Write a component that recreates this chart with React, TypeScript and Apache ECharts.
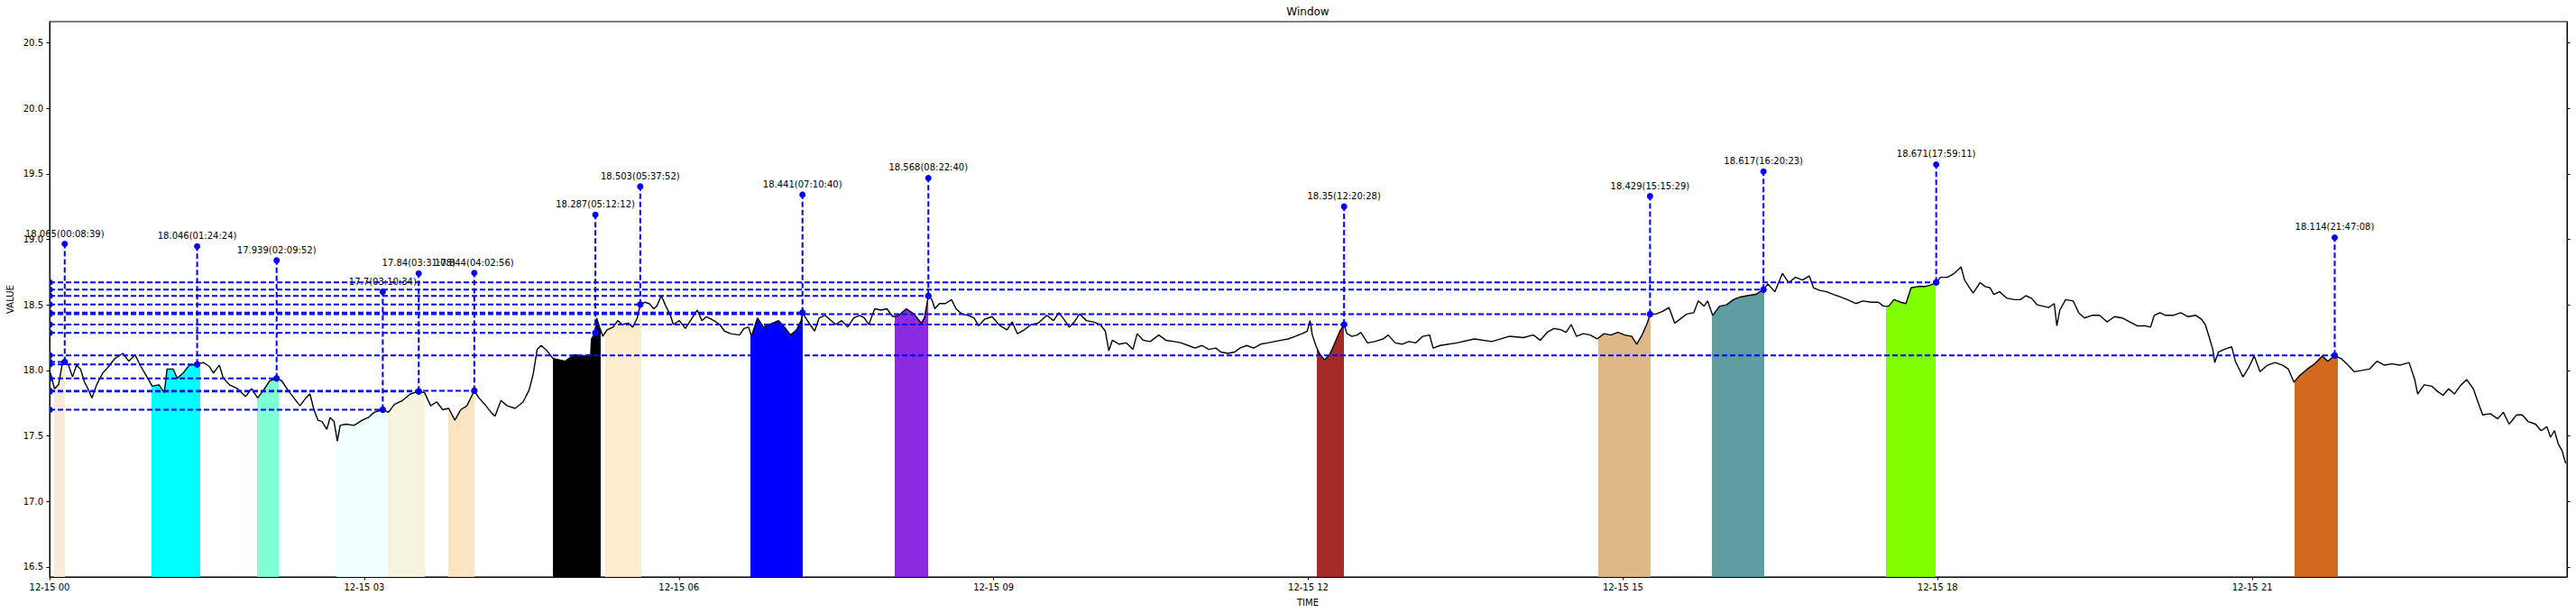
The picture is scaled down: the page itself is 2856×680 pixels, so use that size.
import React, { useEffect, useRef } from 'react';
import * as echarts from 'echarts';

const FONT = 'DejaVu Sans';
const BLUE = '#0000ff';

const xTickMinutes = [0, 180, 360, 540, 720, 900, 1080, 1260];
const xTickLabels = ['12-15 00', '12-15 03', '12-15 06', '12-15 09', '12-15 12', '12-15 15', '12-15 18', '12-15 21'];
const yTickValues = [16.5, 17.0, 17.5, 18.0, 18.5, 19.0, 19.5, 20.0, 20.5];
const yMin = 16.424;
const yMax = 20.661;
const xMin = 0;
const xMax = 1440;

// [minutes since 00:00, value]
const trace: [number, number][] = [
  [0.5,17.98],[2.8,17.86],[5.1,17.89],[7.4,18.06],[8.65,18.065],[10.8,18.04],[13.1,17.95],[15.4,18.04],[17.7,18.01],[20.0,17.91],[22.3,17.85],[24.2,17.79],[26.9,17.89],[30.4,17.98],[33.8,18.03],[37.3,18.09],[41.9,18.13],[45.3,18.07],[48.8,18.12],[52.2,18.03],[55.7,17.95],[58.7,17.88],[62.6,17.89],[65.6,17.83],[67.2,18.01],[70.7,18.01],[73.0,17.94],[76.4,17.98],[79.9,18.04],[84.4,18.046],[87.9,18.06],[91.4,18.03],[93.7,17.98],[97.1,18.04],[99.4,17.94],[102.9,17.89],[107.5,17.86],[112.1,17.80],[115.5,17.86],[119.0,17.79],[122.4,17.85],[125.9,17.92],[129.9,17.939],[132.8,17.92],[136.3,17.85],[139.7,17.79],[143.2,17.73],[146.6,17.79],[148.9,17.82],[151.2,17.70],[153.5,17.62],[155.8,17.61],[158.6,17.55],[160.4,17.64],[162.7,17.61],[164.6,17.46],[166.2,17.58],[169.6,17.59],[174.2,17.58],[178.8,17.62],[182.3,17.64],[185.7,17.68],[190.6,17.70],[193.8,17.68],[197.2,17.74],[201.8,17.77],[206.4,17.82],[211.1,17.84],[214.5,17.83],[218.0,17.73],[221.4,17.76],[224.9,17.70],[228.3,17.71],[231.8,17.62],[235.2,17.70],[238.7,17.73],[242.9,17.844],[245.6,17.79],[249.0,17.74],[252.5,17.68],[254.8,17.65],[258.2,17.77],[261.7,17.73],[266.3,17.71],[270.9,17.76],[274.3,17.85],[276.6,17.97],[278.9,18.16],
  [281.2,18.19],[284.5,18.15],[288.0,18.09],[294.9,18.07],[300.0,18.12],[305.2,18.11],[309.5,18.12],[310.0,18.24],[312.2,18.287],[312.9,18.40],[314.6,18.33],[316.4,18.26],[318.9,18.31],[322.4,18.33],[325.0,18.38],[327.5,18.35],[331.0,18.36],[333.6,18.33],[336.1,18.40],[337.9,18.503],[340.4,18.52],[343.0,18.51],[345.6,18.47],[347.3,18.49],[349.9,18.57],[352.5,18.49],[355.1,18.42],[356.8,18.35],[360.2,18.38],[363.7,18.32],[367.1,18.39],[370.5,18.46],[373.1,18.38],[375.7,18.41],[380.0,18.38],[383.4,18.35],[386.0,18.30],[389.5,18.28],[394.6,18.27],[397.2,18.32],[399.8,18.33],[401.5,18.26],[404.9,18.40],[408.4,18.33],[411.8,18.35],[417.0,18.38],[420.4,18.33],[423.9,18.27],[427.3,18.31],[429.9,18.38],[430.7,18.441],[432.5,18.40],[435.0,18.35],[437.6,18.30],[440.2,18.40],[443.6,18.42],[446.2,18.39],[449.7,18.35],[453.1,18.38],[456.5,18.33],[460.0,18.40],[463.4,18.42],[466.0,18.40],[468.6,18.35],[472.0,18.47],[475.5,18.46],[478.9,18.47],[482.3,18.41],[485.8,18.42],[490.1,18.47],[494.4,18.43],[498.7,18.36],[500.4,18.40],[502.7,18.568],[504.7,18.54],[506.4,18.47],[509.0,18.51],[512.4,18.51],[515.9,18.54],[518.5,18.47],[521.9,18.43],[525.3,18.42],[528.8,18.40],[531.4,18.34],[534.8,18.39],[539.1,18.41],
  [543.7,18.34],[547.7,18.31],[550.6,18.37],[553.6,18.28],[557.6,18.31],[561.5,18.35],[565.5,18.36],[570.4,18.42],[574.3,18.38],[577.3,18.44],[580.2,18.39],[583.2,18.33],[586.2,18.37],[589.1,18.43],[593.1,18.38],[597.0,18.37],[601.0,18.35],[603.9,18.30],[605.9,18.15],[607.9,18.23],[611.8,18.20],[615.8,18.21],[619.7,18.16],[622.1,18.28],[625.6,18.23],[629.6,18.22],[634.5,18.27],[638.5,18.23],[643.4,18.22],[647.3,18.21],[651.3,18.19],[655.2,18.17],[659.2,18.19],[663.1,18.16],[667.1,18.17],[670.0,18.14],[674.0,18.13],[677.9,18.14],[680.9,18.17],[684.8,18.19],[688.8,18.17],[692.7,18.20],[696.7,18.21],[700.6,18.22],[704.6,18.23],[708.5,18.24],[712.5,18.26],[716.4,18.28],[719.4,18.30],[721.0,18.38],[722.3,18.27],[724.3,18.19],[726.3,18.13],[729.2,18.08],[732.2,18.12],[735.2,18.21],[738.1,18.30],[740.5,18.35],[742.1,18.28],[745.0,18.26],[748.0,18.27],[750.0,18.29],[753.9,18.21],[757.9,18.22],[762.8,18.24],[765.7,18.27],[769.7,18.21],[773.6,18.20],[777.6,18.22],[781.5,18.21],[785.5,18.26],[789.4,18.27],[791.4,18.17],[795.4,18.19],
  [805.0,18.21],[815.0,18.24],[825.0,18.22],[835.0,18.26],[843.0,18.25],
  [848.7,18.27],[852.7,18.23],[856.6,18.29],[860.6,18.32],[864.5,18.31],[867.5,18.29],[870.4,18.35],[873.4,18.26],[877.3,18.28],[881.3,18.27],[885.2,18.24],[889.2,18.28],[893.1,18.27],[897.1,18.29],[901.0,18.27],[905.0,18.26],[907.9,18.20],[910.9,18.27],[913.9,18.36],[915.5,18.429],[918.8,18.43],[922.7,18.45],[926.3,18.48],[929.6,18.36],[932.6,18.39],[936.5,18.43],[940.5,18.44],[943.1,18.53],[946.4,18.49],[948.4,18.53],[951.3,18.42],[955.3,18.49],[959.2,18.50],[963.2,18.54],[967.1,18.56],[971.1,18.57],[976.0,18.58],[980.4,18.617],[982.9,18.66],[986.9,18.60],[991.2,18.74],[994.8,18.67],[998.7,18.71],[1002.7,18.69],[1006.6,18.72],[1009.0,18.63],[1012.5,18.61],[1016.5,18.60],[1020.4,18.58],[1024.4,18.56],[1028.3,18.54],[1033.2,18.51],[1037.2,18.53],[1042.1,18.52],[1046.1,18.52],[1049.0,18.49],[1052.0,18.49],[1055.0,18.54],[1058.9,18.52],[1061.9,18.51],[1064.8,18.63],[1068.8,18.64],[1072.7,18.64],[1075.7,18.65],[1079.2,18.671],[1081.6,18.71],[1085.5,18.71],[1089.5,18.74],[1093.4,18.79],[1095.4,18.69],[1097.8,18.64],[1100.3,18.59],[1104.3,18.67],
  [1107.2,18.64],[1110.0,18.63],[1112.1,18.58],[1115.4,18.60],[1119.7,18.55],[1124.0,18.54],[1127.3,18.54],[1130.5,18.57],[1133.7,18.55],[1137.0,18.50],[1140.2,18.49],[1143.5,18.48],[1146.7,18.51],[1148.2,18.34],[1149.9,18.46],[1153.2,18.54],[1157.5,18.53],[1160.7,18.44],[1164.0,18.40],[1168.3,18.42],[1172.6,18.42],[1176.9,18.37],[1181.2,18.41],[1185.6,18.40],[1189.9,18.37],[1194.2,18.34],[1198.5,18.34],[1201.8,18.33],[1203.9,18.42],[1207.2,18.44],[1210.4,18.42],[1214.7,18.42],[1219.0,18.44],[1223.3,18.41],[1227.7,18.42],[1230.9,18.39],[1233.1,18.35],[1235.2,18.26],[1237.4,18.16],[1238.5,18.06],[1240.6,18.14],[1243.9,18.16],[1248.2,18.18],[1250.3,18.07],[1254.7,17.95],[1257.9,18.02],[1261.1,18.11],[1264.4,17.99],[1268.7,18.04],[1273.0,18.06],[1277.3,18.04],[1280.6,18.01],[1283.8,17.91],[1287.0,17.96],[1291.4,18.01],[1295.7,18.05],[1300.0,18.11],[1303.2,18.07],[1307.1,18.114],[1310.8,18.09],[1314.0,18.05],[1318.3,17.99],[1322.7,18.00],[1327.0,18.01],[1331.3,18.07],[1335.6,18.04],[1339.9,18.05],[1344.3,18.04],[1349.7,18.06],[1352.9,17.93],[1354.6,17.82],[1358.3,17.89],[1362.6,17.88],[1365.9,17.84],[1369.1,17.81],[1372.3,17.86],[1375.6,17.82],[1378.8,17.88],[1382.7,17.93],[1386.4,17.86],[1389.6,17.74],[1391.8,17.66],[1396.1,17.67],[1400.4,17.63],[1403.6,17.68],[1406.9,17.59],[1411.2,17.66],[1414.4,17.66],[1417.7,17.61],[1422.0,17.59],[1425.2,17.54],[1428.5,17.57],[1430.6,17.49],[1432.8,17.54],[1435.0,17.44],[1437.1,17.39],[1439.3,17.29],
];

const annTimes = ['00:08:39', '01:24:24', '02:09:52', '03:10:34', '03:31:08', '04:02:56', '05:12:12', '05:37:52', '07:10:40', '08:22:40', '12:20:28', '15:15:29', '16:20:23', '17:59:11', '21:47:08'];
const annValues = [18.065, 18.046, 17.939, 17.7, 17.84, 17.844, 18.287, 18.503, 18.441, 18.568, 18.35, 18.429, 18.617, 18.671, 18.114];
const annRise = 0.9;

const bandStart = [2.4, 58.2, 118.5, 164.1, 193.3, 227.9, 288.0, 317.7, 401.0, 483.5, 724.9, 885.8, 951.0, 1050.6, 1284.0];
const bandEnd = [8.9, 86.1, 131.0, 193.3, 214.5, 242.8, 315.2, 338.4, 431.1, 502.6, 740.5, 915.8, 981.0, 1079.0, 1309.1];
const bandColors = ['#FAEBD7', '#00FFFF', '#7FFFD4', '#F0FFFF', '#F5F5DC', '#FFE4C4', '#000000', '#FFEBCD', '#0000FF', '#8A2BE2', '#A52A2A', '#DEB887', '#5F9EA0', '#7FFF00', '#D2691E'];

const toMin = (s: string) => {
  const [h, m, sec] = s.split(':').map(Number);
  return h * 60 + m + sec / 60;
};

const HALF = 'path://M0,0 A10,10 0 0,1 0,20 Z';

export default function App() {
  const ref = useRef<HTMLDivElement>(null);
  useEffect(() => {
    if (!ref.current) return;
    const chart = echarts.init(ref.current, undefined, { renderer: 'svg' });
    const series: any[] = [];
    series.push({
      type: 'line',
      data: trace,
      showSymbol: false,
      symbol: 'none',
      lineStyle: { width: 0, opacity: 0 },
      areaStyle: { opacity: 1, origin: 'start' },
      z: 1,
      silent: true,
    });
    series.push({
      type: 'line',
      data: trace,
      showSymbol: false,
      symbol: 'none',
      lineStyle: { color: '#000', width: 1.4 },
      itemStyle: { color: '#000' },
      z: 2,
      silent: true,
    });
    annTimes.forEach((ts, i) => {
      const t = toMin(ts);
      const v = annValues[i];
      series.push({
        type: 'line',
        data: [
          { value: [xMin, v], symbol: HALF, symbolSize: [3.5, 7], symbolOffset: [1.75, 0] },
          [t, v],
        ],
        symbol: 'circle',
        symbolSize: 7,
        showSymbol: true,
        lineStyle: { color: BLUE, width: 2, type: [6, 3] },
        itemStyle: { color: BLUE },
        z: 5,
        silent: true,
      });
      series.push({
        type: 'line',
        data: [
          [t, v],
          {
            value: [t, v + annRise],
            label: {
              show: true,
              position: 'top',
              distance: 3,
              formatter: `${v}(${ts})`,
              color: '#000',
              fontSize: 10,
              fontFamily: FONT,
            },
          },
        ],
        symbol: 'circle',
        symbolSize: 7,
        showSymbol: true,
        lineStyle: { color: BLUE, width: 2, type: [6, 3] },
        itemStyle: { color: BLUE },
        z: 6,
        silent: true,
      });
    });

    const axisFont = { color: '#000', fontSize: 10, fontFamily: FONT };
    chart.setOption({
      animation: false,
      backgroundColor: '#fff',
      textStyle: { fontFamily: FONT },
      grid: {
        left: 55, right: 10, top: 24, bottom: 40,
        show: true, borderColor: '#000', borderWidth: 1, backgroundColor: 'transparent',
        containLabel: false, outerBoundsMode: 'none',
      },
      visualMap: {
        type: 'piecewise',
        show: false,
        dimension: 0,
        seriesIndex: 0,
        pieces: bandStart.map((s, i) => ({ gte: s, lte: bandEnd[i], color: bandColors[i] })),
        outOfRange: { color: 'rgba(0,0,0,0)' },
      },
      xAxis: {
        type: 'value',
        min: xMin,
        max: xMax,
        axisLine: { show: true, lineStyle: { color: '#000', width: 1 } },
        axisTick: { show: true, length: 3.5, lineStyle: { color: '#000' }, customValues: xTickMinutes },
        axisLabel: {
          show: true,
          customValues: xTickMinutes,
          formatter: (val: number) => {
            const k = xTickMinutes.indexOf(Math.round(val));
            return k >= 0 ? xTickLabels[k] : '';
          },
          margin: 6,
          ...axisFont,
        },
        splitLine: { show: false },
      },
      yAxis: [
        {
          type: 'value',
          position: 'left',
          min: yMin,
          max: yMax,
          axisLine: { show: true, lineStyle: { color: '#000', width: 1 } },
          axisTick: { show: true, length: 3.5, lineStyle: { color: '#000' }, customValues: yTickValues },
          axisLabel: {
            show: true,
            customValues: yTickValues,
            formatter: (val: number) => val.toFixed(1),
            margin: 7,
            ...axisFont,
          },
          splitLine: { show: false },
        },
        {
          type: 'value',
          position: 'right',
          min: yMin,
          max: yMax,
          axisLine: { show: true, lineStyle: { color: '#000', width: 1 } },
          axisTick: { show: true, length: 3.5, lineStyle: { color: '#000' }, customValues: yTickValues },
          axisLabel: { show: false },
          splitLine: { show: false },
        },
      ],
      graphic: [
        { type: 'text', x: 1450, y: 13, style: { text: 'Window', fontSize: 12, fontFamily: FONT, fill: '#000', align: 'center', verticalAlign: 'middle' } },
        { type: 'text', x: 1450, y: 668, style: { text: 'TIME', fontSize: 10, fontFamily: FONT, fill: '#000', align: 'center', verticalAlign: 'middle' } },
        { type: 'text', x: 11, y: 332, rotation: Math.PI / 2, style: { text: 'VALUE', fontSize: 10, fontFamily: FONT, fill: '#000', align: 'center', verticalAlign: 'middle' } },
      ],
      series,
    });
    return () => chart.dispose();
  }, []);
  return <div ref={ref} style={{ position: 'absolute', left: 0, top: 0, width: 2856, height: 680 }} />;
}
